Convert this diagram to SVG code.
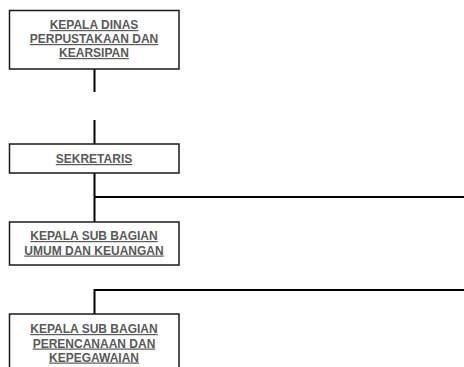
<svg xmlns="http://www.w3.org/2000/svg" width="464" height="367" viewBox="0 0 464 367">
  <style>
    .box { fill: #ffffff; stroke: #1a1a1a; stroke-width: 1.5; }
    .lbl { font-family: "Liberation Sans", Arial, sans-serif; font-size: 12px; font-weight: bold; fill: #595959; text-anchor: middle; text-decoration: underline; }
    .wire { fill: none; stroke: #000000; stroke-width: 2; }
  </style>
  <rect width="464" height="367" fill="#ffffff"/>

  <!-- connectors -->
  <g id="connectors">
    <line class="wire" x1="94.5" y1="69" x2="94.5" y2="92"/>
    <line class="wire" x1="94.5" y1="120" x2="94.5" y2="144"/>
    <line class="wire" x1="94.5" y1="173" x2="94.5" y2="222"/>
    <line class="wire" x1="94.5" y1="197" x2="464" y2="197"/>
    <polyline class="wire" points="94.5,314 94.5,290 464,290"/>
  </g>

  <g id="kepala-dinas">
    <rect class="box" x="9.5" y="10.5" width="169.5" height="58.5"/>
    <text class="lbl" x="94" y="29">KEPALA DINAS</text>
    <text class="lbl" x="94" y="43">PERPUSTAKAAN DAN</text>
    <text class="lbl" x="94" y="57">KEARSIPAN</text>
  </g>

  <g id="sekretaris">
    <rect class="box" x="9.5" y="144" width="169.5" height="29"/>
    <text class="lbl" x="94" y="163">SEKRETARIS</text>
  </g>

  <g id="subbag-umum">
    <rect class="box" x="9.5" y="222" width="169.5" height="43"/>
    <text class="lbl" x="94" y="240">KEPALA SUB BAGIAN</text>
    <text class="lbl" x="94" y="254.5">UMUM DAN KEUANGAN</text>
  </g>

  <g id="subbag-perencanaan">
    <rect class="box" x="9.5" y="314" width="169.5" height="60"/>
    <text class="lbl" x="94" y="333">KEPALA SUB BAGIAN</text>
    <text class="lbl" x="94" y="347.5">PERENCANAAN DAN</text>
    <text class="lbl" x="94" y="361.5">KEPEGAWAIAN</text>
  </g>
</svg>
